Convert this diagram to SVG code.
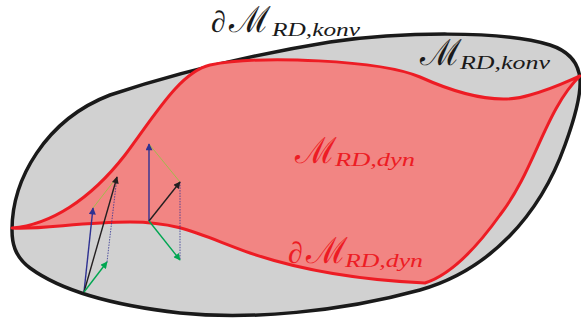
<svg xmlns="http://www.w3.org/2000/svg" width="581" height="322" viewBox="0 0 581 322">
<style>
.konv{fill:#d1d1d1;stroke:#1a1a1a;stroke-width:3.5;stroke-linejoin:round}
.dyn{fill:#f28583;stroke:#ed1c24;stroke-width:3;stroke-linejoin:round}
.pd{font-family:"Liberation Serif",serif;font-style:italic;font-size:30px}
.mm{font-family:"DejaVu Sans",sans-serif;font-weight:200;font-size:36px}
.sub{font-family:"Liberation Serif",serif;font-style:italic;font-size:18px}
.blk{fill:#1a1a1a}
.red{fill:#ed1c24}
.v{stroke-width:1.4;fill:none}
.vb{stroke:#2e3192}
.vk{stroke:#231f20}
.vg{stroke:#00a651}
.aux{stroke:#8dc63f;stroke-width:0.8;fill:none}
.dot{stroke:#2e3192;stroke-width:0.8;stroke-dasharray:1.5 1.2;fill:none}
</style>
<defs>
<marker id="ab" viewBox="0 0 10 10" refX="9" refY="5" markerWidth="8" markerHeight="7" markerUnits="userSpaceOnUse" orient="auto"><path d="M0,0 L10,5 L0,10 z" fill="#2e3192"/></marker>
<marker id="ak" viewBox="0 0 10 10" refX="9" refY="5" markerWidth="8" markerHeight="7" markerUnits="userSpaceOnUse" orient="auto"><path d="M0,0 L10,5 L0,10 z" fill="#231f20"/></marker>
<marker id="ag" viewBox="0 0 10 10" refX="9" refY="5" markerWidth="8" markerHeight="7" markerUnits="userSpaceOnUse" orient="auto"><path d="M0,0 L10,5 L0,10 z" fill="#00a651"/></marker>
</defs>
<g id="M-konv">
<path class="konv" d="M12,230 C12,180 45,120 110,95 C170,75 250,55 330,42 C400,32 500,30 550,45 C590,58 585,90 565,145 C540,215 490,270 420,290 C340,312 250,320 180,313 C110,305 60,290 30,268 C14,256 12,242 12,230 Z"/>
</g>
<g id="M-dyn">
<path class="dyn" d="M12,228 C50,225 90,200 125,155 C155,115 180,72 210,65 C260,55 380,60 420,77 C460,95 500,105 530,95 C555,88 570,80 580,76 C545,110 535,170 500,215 C475,250 450,275 425,283 C360,280 300,270 250,253 C200,235 180,222 130,222 C80,222 40,230 12,228 Z"/>
</g>
<g id="label-dM-konv">
<text class="pd blk" x="211" y="32">∂</text>
<text class="mm blk" x="229" y="32">ℳ</text>
<text class="sub blk" x="272" y="36" textLength="88" lengthAdjust="spacingAndGlyphs">RD,konv</text>
</g>
<g id="label-M-konv">
<text class="mm blk" x="420" y="65">ℳ</text>
<text class="sub blk" x="460" y="69" textLength="90" lengthAdjust="spacingAndGlyphs">RD,konv</text>
</g>
<g id="label-M-dyn">
<text class="mm red" x="295" y="163">ℳ</text>
<text class="sub red" x="335" y="166" textLength="80" lengthAdjust="spacingAndGlyphs">RD,dyn</text>
</g>
<g id="label-dM-dyn">
<text class="pd red" x="288" y="263">∂</text>
<text class="mm red" x="306" y="263">ℳ</text>
<text class="sub red" x="345" y="267" textLength="78" lengthAdjust="spacingAndGlyphs">RD,dyn</text>
</g>
<g id="connectors">
<line class="aux" x1="93" y1="208" x2="117" y2="177"/>
<line class="dot" x1="107" y1="262" x2="117" y2="177"/>
<line class="v vb" x1="84" y1="292" x2="93" y2="208" marker-end="url(#ab)"/>
<line class="v vk" x1="84" y1="292" x2="117" y2="177" marker-end="url(#ak)"/>
<line class="v vg" x1="84" y1="292" x2="107" y2="262" marker-end="url(#ag)"/>
<line class="aux" x1="149" y1="144" x2="180" y2="182"/>
<line class="dot" x1="180" y1="182" x2="180" y2="260"/>
<line class="v vb" x1="149" y1="221" x2="149" y2="144" marker-end="url(#ab)"/>
<line class="v vk" x1="149" y1="221" x2="180" y2="182" marker-end="url(#ak)"/>
<line class="v vg" x1="149" y1="221" x2="180" y2="260" marker-end="url(#ag)"/>
</g>
</svg>
